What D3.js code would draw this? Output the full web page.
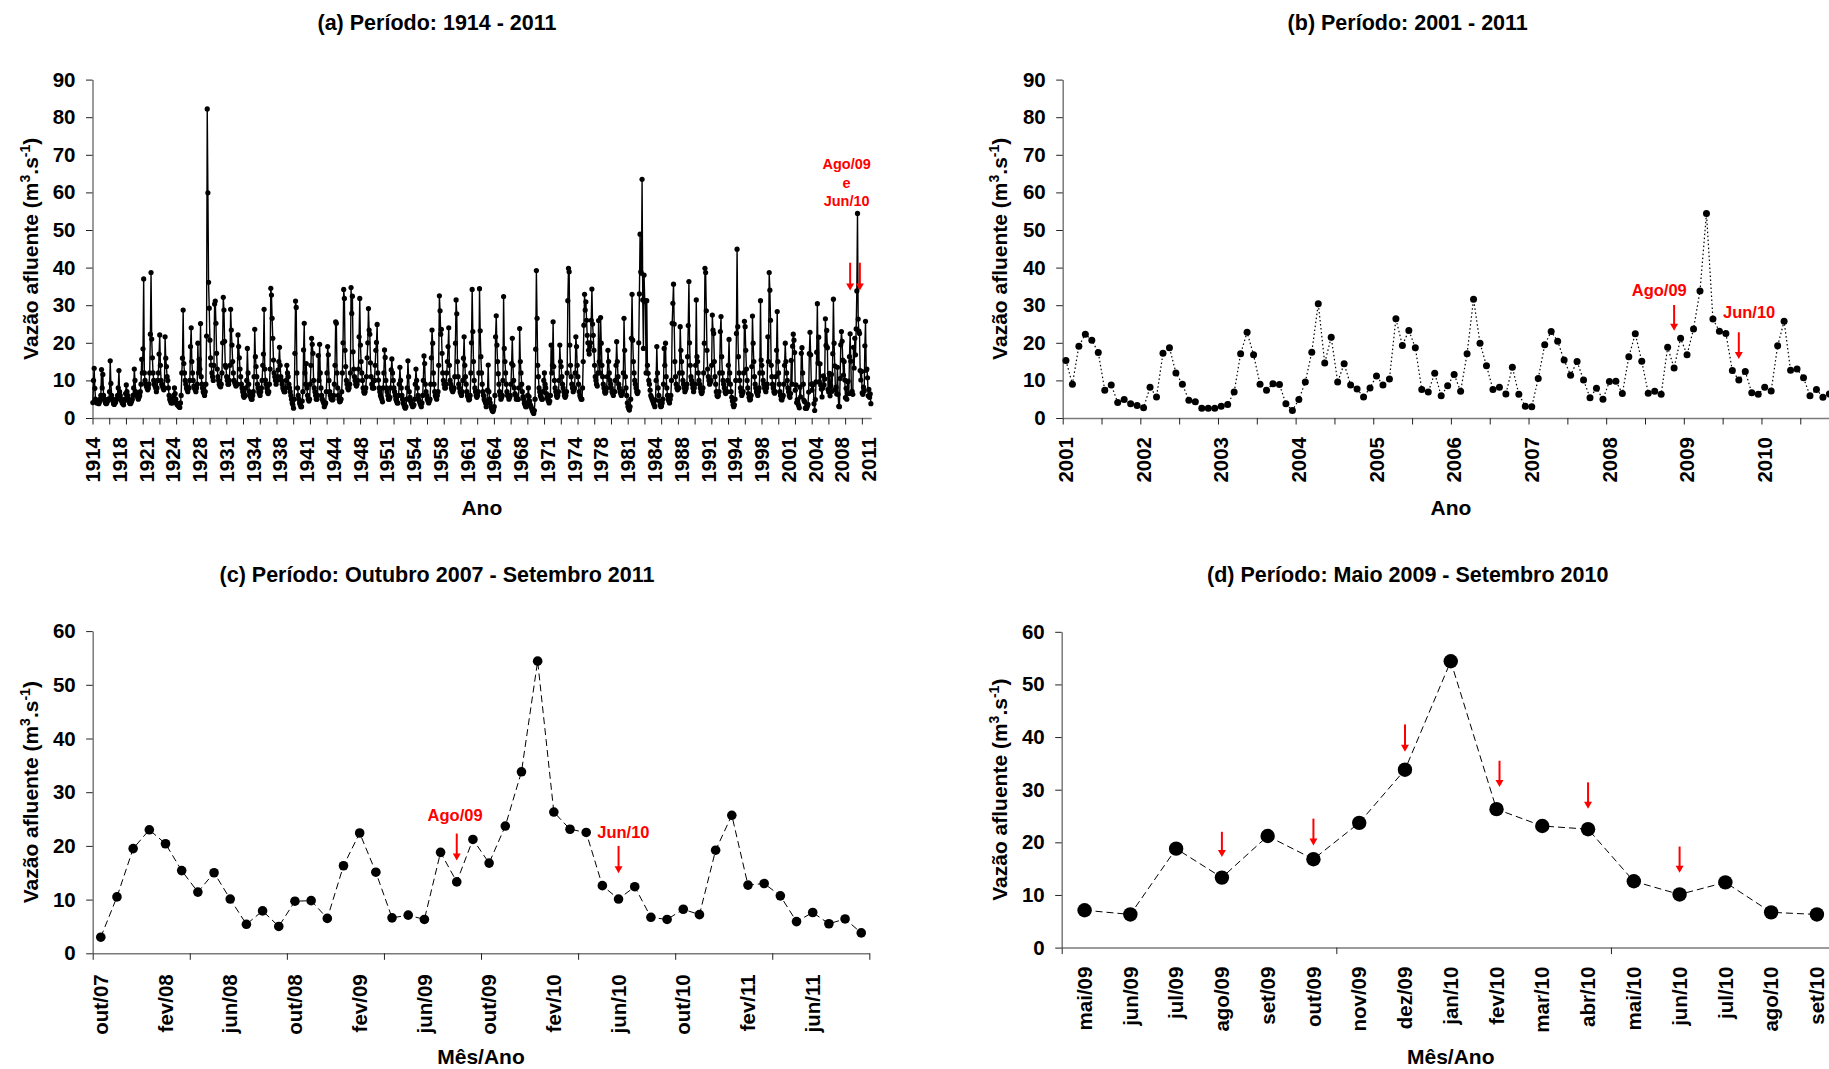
<!doctype html>
<html lang="pt">
<head>
  <meta charset="utf-8">
  <title>Vazão afluente - períodos</title>
  <script src="https://cdn.jsdelivr.net/npm/d3@7"></script>
  <style>
    body { margin: 0; background: #fff; }
    svg text { font-family: "Liberation Sans", Arial, sans-serif; font-weight: bold; fill: #000; }
  </style>
</head>
<body>
<div id="grafico"></div>
<script>
var vazaoHistorica = [
  [4.1, 10, 13.2, 7.9, 5, 4.5, 4, 4.2, 4, 3.8, 4.3, 5],
  [6, 12.9, 8, 11.6, 6, 5, 4.5, 4, 3.8, 4, 4.5, 5],
  [5, 7, 15.2, 9.2, 6, 5, 4.5, 3.8, 3.6, 4, 4.2, 5],
  [5, 6, 8, 12.6, 7, 6, 5, 4.5, 4, 3.8, 3.5, 4.5],
  [5, 6.5, 8.8, 7, 6, 5, 4.5, 4, 3.8, 4, 4.5, 5],
  [6, 8, 13, 10, 7, 6.5, 6, 5.5, 5, 5.5, 6, 7],
  [9, 15.6, 12, 18.4, 37, 12, 10, 9, 8.5, 8, 7.5, 8],
  [9, 12, 22.3, 38.7, 21, 16, 12, 10, 9, 8.5, 8, 7],
  [8, 10, 12, 17, 22.1, 14, 10, 9, 8.5, 8, 7.5, 8],
  [21.6, 15.9, 13.7, 11, 10, 8, 6, 5, 4.5, 4, 5, 4],
  [5, 6, 8, 6.5, 5, 4, 3.5, 3.8, 3.2, 3, 2.8, 4],
  [6, 12, 15.9, 28.7, 14.5, 12, 10, 9, 8, 7.5, 7, 8],
  [8, 10, 19, 24, 15, 12, 10, 8.5, 8, 7.5, 7, 8],
  [9, 19.9, 12, 15.6, 13, 25.1, 11, 9, 8, 7, 6.6, 6],
  [7, 9, 21.8, 82.2, 59.9, 36.1, 29.2, 20.7, 16, 14.1, 12, 11],
  [10, 14, 30.3, 31.1, 25.2, 17.2, 13, 11, 10, 9, 8.5, 8.3],
  [9, 12, 20, 32.1, 28.7, 20.4, 14, 13.5, 11, 10, 9, 9],
  [10, 14, 28.9, 23.4, 19.4, 15, 12, 10, 9.5, 9, 8.5, 9],
  [9, 22.1, 19, 16, 13, 11, 9, 8, 7, 6, 5.5, 6],
  [6, 8, 10, 18.5, 12, 9, 7, 6, 5.5, 5, 5, 6],
  [7, 11, 23.6, 16.3, 13.7, 11, 9, 8, 7, 6.5, 6, 7],
  [8, 10, 14, 17, 28.9, 13, 10.1, 9, 8, 7, 6.5, 7],
  [9, 13, 34.5, 32.7, 26.5, 21.2, 15.4, 12, 11, 10, 9, 10],
  [11, 12.8, 15, 18.8, 14, 11, 10, 9, 8, 7.5, 7, 7],
  [8, 10, 14, 12, 11, 9, 8, 7, 6, 5, 4, 3.5],
  [2.6, 5, 17.2, 31.1, 29.4, 12, 8, 6, 5, 4, 3.5, 3],
  [3, 4.5, 7, 18.1, 25.2, 12, 9, 14.5, 8, 6, 5, 4.5],
  [5, 9, 14, 21.2, 19.6, 17.2, 10, 8, 7, 6, 5, 5],
  [6, 16.6, 10, 19.6, 12, 8, 6, 5, 4.5, 4, 3, 3.5],
  [4, 7, 12, 19, 16.8, 10, 7, 6, 5.2, 5, 4.8, 5],
  [6, 9, 14, 25.6, 25.2, 12, 8, 6, 5, 4.3, 4.5, 5],
  [7, 12, 20, 34.2, 31.8, 18, 13.7, 10, 9, 8, 7.5, 8],
  [9, 12, 34.7, 27.8, 32.4, 17.6, 13, 11, 10, 9, 8.5, 9],
  [10, 13, 21.6, 31.8, 19.4, 15, 12, 10, 8, 7, 6.6, 7],
  [8, 11, 16, 20, 29.1, 23.4, 22.3, 14.7, 11, 9, 8, 8],
  [8, 10, 14, 18, 20.1, 24.9, 12, 10.1, 8, 7, 6, 5.5],
  [5, 4.3, 8, 12, 18.1, 16.1, 10, 8, 7, 6, 5, 5],
  [5.5, 8, 12.8, 15.7, 12, 10, 8, 7, 6, 5, 4.5, 4],
  [4, 6, 9, 13.5, 10, 8, 6, 5, 4, 3.5, 3, 2.6],
  [3, 5, 8, 15.2, 11, 7, 5.5, 4.5, 4, 3.5, 3, 3.2],
  [3.5, 5, 9, 13, 10, 8, 6, 5, 4.5, 4, 3.5, 3],
  [4, 6, 10, 16.5, 14.5, 9, 7, 6, 5, 4.5, 4, 4.5],
  [5, 9, 16, 23.4, 19.9, 12, 9, 7, 6, 5.5, 5, 6],
  [7, 14, 32.5, 28.5, 22.3, 23.6, 17.2, 12, 10, 9, 8, 8],
  [9, 12, 15, 19, 24, 14, 10, 9, 8, 7.4, 7, 7.5],
  [8, 11, 19.9, 31.4, 27.7, 15, 11, 9, 8, 7, 6.5, 6],
  [7, 10, 15.9, 21.6, 14, 11, 9, 7, 6, 5.5, 4.8, 5],
  [6, 12, 20, 34.2, 23, 15, 10, 8, 7, 6, 5.5, 6],
  [7, 12, 34.4, 23.2, 16.3, 12, 9, 7, 6, 5, 4.5, 4],
  [3, 4, 7.4, 14.1, 7, 5, 4, 3, 2.5, 2, 1.7, 2.2],
  [3, 6, 21.6, 27.2, 19.4, 15, 11.8, 9, 7, 6, 5, 5.5],
  [6, 10, 32.3, 18.5, 15, 12, 9, 7, 6, 5.7, 5, 5.5],
  [6, 9, 14.5, 21.2, 14, 10, 8, 6.5, 6, 5, 5.2, 5],
  [5, 8, 23.8, 15, 12, 9, 7, 5.7, 5, 4, 3.5, 3],
  [3, 4, 6, 8, 5.7, 4.5, 3.5, 3, 2.5, 2, 1.5, 1.2],
  [2, 5, 18.3, 39.2, 26.5, 14, 11, 8, 7, 6, 5.5, 5],
  [5, 7, 10, 12, 9, 8, 6.5, 5.5, 5, 4.5, 4, 4.5],
  [6, 19.4, 12, 14, 25.6, 13.7, 10, 8, 7, 6, 5.5, 6],
  [7, 10, 19.4, 15, 13.7, 11, 9, 8, 7, 6, 5.5, 6],
  [7, 12, 31.2, 39.8, 38.9, 19.4, 14, 11, 9, 8, 7, 7.5],
  [8, 12, 21.6, 19, 14, 11, 9, 7, 6, 5.5, 5, 5],
  [8, 15, 24.7, 32.9, 28.7, 30.9, 26, 22, 20, 18, 17, 19],
  [20, 26, 34.3, 25, 22, 18, 14, 11, 10, 9, 8.5, 12],
  [25.9, 15, 12, 26.7, 19.9, 14, 11, 9, 8, 7, 6.6, 7],
  [8, 11, 18, 15, 12, 10, 9, 8, 7, 6.6, 6, 7],
  [7, 10, 14, 20.3, 15, 11, 9, 8, 7, 6.5, 6, 6.6],
  [7, 12, 26.5, 18, 11, 8, 6, 4, 3, 2.5, 2.1, 3],
  [5, 21.2, 32.9, 20.7, 15, 12, 10, 9, 8, 7, 6.5, 7],
  [20, 33, 48.9, 38.9, 38.5, 63.5, 31.4, 18.5, 38, 30.9, 31.2, 12],
  [31.2, 14, 11.9, 10, 9, 7.4, 6, 5.5, 5, 4.5, 4, 3.5],
  [3, 4.8, 10, 19, 12, 8, 6, 4.5, 3.5, 3, 3.2, 4],
  [5, 9, 18.5, 14, 19.9, 11, 8, 6, 5, 4.5, 4, 5],
  [6, 10, 25.2, 30.5, 35.6, 25, 15, 11, 9, 8, 7.5, 8],
  [8, 12, 24.3, 18, 15, 12, 10, 9, 8, 7, 7.5, 8],
  [9, 16.3, 24.6, 36.3, 20, 14, 11, 10, 9, 8, 7, 8],
  [9, 14, 31.4, 16.3, 15, 12, 10, 9, 8, 7, 6.5, 7],
  [8, 12, 19.9, 39.8, 38.7, 28.5, 18, 13, 11, 10, 9, 9.5],
  [10, 14, 27.4, 23.4, 22.5, 15, 11, 9, 7, 6, 5.7, 6],
  [7, 12, 23, 27, 16.3, 12, 10, 9, 8, 7, 6.5, 7],
  [7, 10, 14, 20.9, 12, 9, 7, 5.5, 4.5, 3.5, 3, 3.5],
  [5, 10, 22.5, 44.9, 24.3, 16.3, 12, 10, 8, 7, 6, 6.5],
  [7, 12, 25.7, 24.3, 18, 13, 10, 8, 6.5, 5.5, 4.8, 5],
  [6, 13.7, 27.1, 19.9, 15, 11, 9, 8, 7, 6.5, 6, 7],
  [8, 12, 31.2, 15.4, 14, 12, 10, 9, 8, 7.5, 7, 8],
  [9, 21.6, 15, 38.7, 34, 26, 14, 11, 9, 8, 7, 6.6],
  [7, 11, 18, 28.3, 15, 12, 9, 7, 6, 5, 4.8, 5.5],
  [6, 9, 14, 19.9, 15, 12, 10, 8, 7, 6, 5.5, 6.5]
];

// out/2001 a set/2011 (gráficos b, c e d)
var vazaoRecente = [
  [15.3, 9.0, 19.1, 22.3, 20.7, 17.4, 7.4, 8.8, 4.1, 4.9, 3.8, 3.3],
  [2.7, 8.2, 5.6, 17.2, 18.7, 12.0, 9.0, 4.7, 4.3, 2.6, 2.6, 2.6],
  [3.1, 3.6, 6.9, 17.1, 22.8, 16.8, 9.0, 7.4, 9.1, 8.9, 3.8, 2.0],
  [4.9, 9.6, 17.5, 30.4, 14.6, 21.5, 9.6, 14.4, 8.8, 7.7, 5.6, 8.0],
  [11.2, 8.8, 10.4, 26.4, 19.3, 23.3, 18.7, 7.6, 6.9, 11.9, 5.9, 8.6],
  [11.6, 7.1, 17.1, 31.6, 19.9, 13.9, 7.6, 8.2, 6.4, 13.5, 6.3, 3.1],
  [3.0, 10.5, 19.5, 23.0, 20.4, 15.4, 11.4, 15.0, 10.1, 5.4, 7.9, 5.0],
  [9.7, 9.8, 6.5, 16.3, 22.4, 15.1, 6.6, 7.1, 6.3, 18.8, 13.3, 21.2],
  [16.8, 23.7, 33.8, 54.4, 26.3, 23.1, 22.5, 12.6, 10.1, 12.4, 6.7, 6.3],
  [8.2, 7.2, 19.2, 25.7, 12.7, 13.0, 10.7, 5.9, 7.6, 5.5, 6.4, 3.8]
];

var rotulosA = ["1914", "1918", "1921", "1924", "1928", "1931", "1934", "1938", "1941", "1944",
  "1948", "1951", "1954", "1958", "1961", "1964", "1968", "1971", "1974", "1978",
  "1981", "1984", "1988", "1991", "1994", "1998", "2001", "2004", "2008", "2011"];
var rotulosB = ["2001", "2002", "2003", "2004", "2005", "2006", "2007", "2008", "2009", "2010"];
var rotulosC = ["out/07", "fev/08", "jun/08", "out/08", "fev/09", "jun/09", "out/09", "fev/10",
  "jun/10", "out/10", "fev/11", "jun/11"];
var rotulosD = ["mai/09", "jun/09", "jul/09", "ago/09", "set/09", "out/09", "nov/09", "dez/09",
  "jan/10", "fev/10", "mar/10", "abr/10", "mai/10", "jun/10", "jul/10", "ago/10", "set/10"];
var ticksY90 = [0, 10, 20, 30, 40, 50, 60, 70, 80, 90];
var ticksY60 = [0, 10, 20, 30, 40, 50, 60];

var serieA = vazaoHistorica.flat().concat(vazaoRecente.flat());
var serieB = vazaoRecente.flat();
var serieC = serieB.slice(72);       // out/07 em diante
var serieD = serieB.slice(91, 108);  // mai/09 a set/10

var svg = d3.select("#grafico")
  .append("svg")
  .attr("width", 1829)
  .attr("height", 1069);

svg.append("rect").attr("width", 1829).attr("height", 1069).attr("fill", "#fff");

// desenha um painel completo
function painel(c) {
  var n = c.dados.length;
  var x = d3.scaleLinear().domain([0, n]).range([c.x0, c.x0 + n * c.passo]);
  var y = d3.scaleLinear().domain([0, c.ymax]).range([c.base, c.topo]);
  var g = svg.append("g");

  // eixo Y
  var ey = g.append("g")
    .attr("transform", "translate(" + c.x0 + ",0)")
    .call(d3.axisLeft(y).tickValues(c.ticksY).tickSize(6.5).tickSizeOuter(0).tickPadding(10.5));
  ey.select(".domain").attr("stroke", "#7a7a7a").attr("stroke-width", 1.5);
  ey.selectAll(".tick line").attr("stroke", "#222");
  ey.selectAll(".tick text").style("font-size", "20.5px").attr("font-family", null);

  // eixo X: marcas nos limites das categorias
  var marcas = d3.range(0, n + 1, c.cadaMarca);
  var ex = g.append("g")
    .attr("transform", "translate(0," + c.base + ")")
    .call(d3.axisBottom(x).tickValues(marcas).tickSize(6.5).tickSizeOuter(0).tickFormat(""));
  ex.select(".domain").attr("stroke", "#7a7a7a").attr("stroke-width", 1.5);
  ex.selectAll(".tick line").attr("stroke", "#222");

  // rótulos do eixo X, verticais, no centro da categoria
  g.append("g").selectAll("text")
    .data(c.rotulos)
    .enter()
    .append("text")
    .attr("transform", function (d, i) {
      return "translate(" + x(i * c.cadaRotulo + 0.5) + "," + (c.base + c.afastRotulo) + ") rotate(-90)";
    })
    .attr("text-anchor", "end")
    .attr("dy", "0.35em")
    .style("font-size", "20.5px")
    .text(function (d) { return d; });

  // linha
  var linha = d3.line()
    .x(function (d, i) { return x(i + 0.5); })
    .y(function (d) { return y(d); });
  g.append("path")
    .datum(c.dados)
    .attr("fill", "none")
    .attr("stroke", "#000")
    .attr("stroke-width", c.espessura)
    .attr("stroke-dasharray", c.traco)
    .attr("d", linha);

  // pontos
  g.append("g").selectAll("circle")
    .data(c.dados)
    .enter()
    .append("circle")
    .attr("cx", function (d, i) { return x(i + 0.5); })
    .attr("cy", function (d) { return y(d); })
    .attr("r", c.raio)
    .attr("fill", "#000");

  // títulos
  g.append("text")
    .attr("x", c.tituloX).attr("y", c.tituloY)
    .attr("text-anchor", "middle")
    .style("font-size", "21.5px")
    .text(c.titulo);

  g.append("text")
    .attr("x", (c.x0 + c.x0 + n * c.passo) / 2).attr("y", c.nomeXY)
    .attr("text-anchor", "middle")
    .style("font-size", "21px")
    .text(c.nomeX);

  var ty = g.append("text")
    .attr("transform", "translate(" + c.nomeYx + "," + ((c.base + c.topo) / 2) + ") rotate(-90)")
    .attr("text-anchor", "middle")
    .style("font-size", "21px");
  ty.append("tspan").text("Vazão afluente (m");
  ty.append("tspan").attr("baseline-shift", "super").style("font-size", "14px").text("3");
  ty.append("tspan").text(".s");
  ty.append("tspan").attr("baseline-shift", "super").style("font-size", "14px").text("-1");
  ty.append("tspan").text(")");

  // anotações em vermelho
  (c.setas || []).forEach(function (s) {
    var ax = x(s.mes + 0.5) + (s.dx || 0);
    var yt = y(s.ponta);
    g.append("line")
      .attr("x1", ax).attr("x2", ax)
      .attr("y1", y(s.topo)).attr("y2", yt - 6)
      .attr("stroke", "#ff0000").attr("stroke-width", 2);
    g.append("path")
      .attr("d", "M" + (ax - 4) + "," + (yt - 7) + "L" + (ax + 4) + "," + (yt - 7) + "L" + ax + "," + yt + "Z")
      .attr("fill", "#ff0000");
  });
  (c.textos || []).forEach(function (t) {
    g.append("text")
      .attr("x", x(t.mes + 0.5)).attr("y", y(t.valor))
      .attr("dy", "0.35em")
      .attr("text-anchor", "middle")
      .style("font-size", c.fonteNota)
      .style("fill", "#ff0000")
      .text(t.texto);
  });
}

painel({
  dados: serieA, x0: 92.5, passo: 0.669, base: 418, topo: 79.6, ymax: 90, ticksY: ticksY90,
  cadaMarca: 25, rotulos: rotulosA, cadaRotulo: 40, afastRotulo: 19,
  espessura: 1.4, traco: null, raio: 2.6,
  titulo: "(a) Período: 1914 - 2011", tituloX: 437, tituloY: 30,
  nomeX: "Ano", nomeXY: 514.5, nomeYx: 37.5,
  fonteNota: "14.5px",
  setas: [{ mes: 1138, dx: -4, topo: 41.3, ponta: 33.9 }, { mes: 1148, dx: -1, topo: 41.3, ponta: 33.9 }],
  textos: [{ texto: "Ago/09", mes: 1126.8, valor: 67.7 }, { texto: "e", mes: 1126.8, valor: 62.6 },
    { texto: "Jun/10", mes: 1126.8, valor: 57.8 }]
});

painel({
  dados: serieB, x0: 1062.7, passo: 6.47, base: 418, topo: 79.6, ymax: 90, ticksY: ticksY90,
  cadaMarca: 6, rotulos: rotulosB, cadaRotulo: 12, afastRotulo: 19,
  espessura: 1.2, traco: "1.5,2.5", raio: 3.5,
  titulo: "(b) Período: 2001 - 2011", tituloX: 1407.7, tituloY: 30,
  nomeX: "Ano", nomeXY: 514.5, nomeYx: 1006.5,
  fonteNota: "16.5px",
  setas: [{ mes: 94, topo: 30.05, ponta: 23.2 }, { mes: 104, topo: 22.8, ponta: 15.7 }],
  textos: [{ texto: "Ago/09", mes: 91.7, valor: 34.0 }, { texto: "Jun/10", mes: 105.6, valor: 28.1 }]
});

painel({
  dados: serieC, x0: 92.7, passo: 16.18, base: 953.3, topo: 631.1, ymax: 60, ticksY: ticksY60,
  cadaMarca: 6, rotulos: rotulosC, cadaRotulo: 4, afastRotulo: 21,
  espessura: 1, traco: "7,4", raio: 4.8,
  titulo: "(c) Período: Outubro 2007 - Setembro 2011", tituloX: 437, tituloY: 582,
  nomeX: "Mês/Ano", nomeXY: 1063.5, nomeYx: 37.5,
  fonteNota: "16.5px",
  setas: [{ mes: 22, topo: 22.3, ponta: 17.3 }, { mes: 32, topo: 20.0, ponta: 14.9 }],
  textos: [{ texto: "Ago/09", mes: 21.9, valor: 25.75 }, { texto: "Jun/10", mes: 32.3, valor: 22.6 }]
});

painel({
  dados: serieD, x0: 1061.7, passo: 45.77, base: 947.6, topo: 631.8, ymax: 60, ticksY: ticksY60,
  cadaMarca: 6, rotulos: rotulosD, cadaRotulo: 1, afastRotulo: 19,
  espessura: 1, traco: "7,4", raio: 7.2,
  titulo: "(d) Período: Maio 2009 - Setembro 2010", tituloX: 1407.7, tituloY: 582,
  nomeX: "Mês/Ano", nomeXY: 1063.5, nomeYx: 1006.5,
  fonteNota: "16.5px",
  setas: [{ mes: 3, topo: 22.0, ponta: 17.2 }, { mes: 5, topo: 24.5, ponta: 19.4 },
    { mes: 7, topo: 42.4, ponta: 37.2 }, { mes: 9, dx: 3, topo: 35.5, ponta: 30.5 },
    { mes: 11, topo: 31.4, ponta: 26.4 }, { mes: 13, topo: 19.2, ponta: 14.2 }]
});
</script>
</body>
</html>
